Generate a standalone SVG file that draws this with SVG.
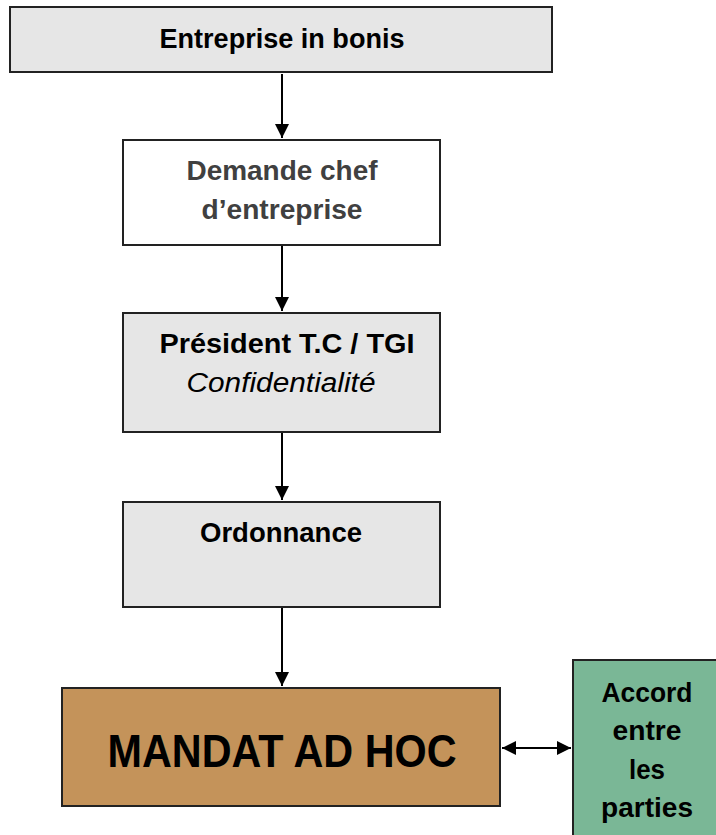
<svg xmlns="http://www.w3.org/2000/svg" width="716" height="835" viewBox="0 0 716 835">
<style>
.box{stroke:#222;stroke-width:2}
.t{font-family:"Liberation Sans",Arial,sans-serif;font-weight:bold;font-size:27px;text-anchor:middle;fill:#000}
.c{stroke:#000;stroke-width:2;fill:none}
</style>
<defs>
<marker id="ah" viewBox="0 0 10 10" refX="10" refY="5" markerWidth="7" markerHeight="7" orient="auto-start-reverse" markerUnits="strokeWidth">
<path d="M0,0 L10,5 L0,10 Z" fill="#000"/>
</marker>
</defs>
<rect width="716" height="835" fill="#fff"/>
<g id="n1"><rect class="box" x="10" y="7" width="542" height="65" fill="#e6e6e6"/>
<text class="t" x="282" y="48" textLength="245" lengthAdjust="spacingAndGlyphs">Entreprise in bonis</text></g>
<g id="n2"><rect class="box" x="123" y="140" width="317" height="105" fill="#fff"/>
<text class="t" x="282" y="180" style="fill:#404040" textLength="191" lengthAdjust="spacingAndGlyphs">Demande chef</text>
<text class="t" x="282" y="219" style="fill:#404040" textLength="161" lengthAdjust="spacingAndGlyphs">d’entreprise</text></g>
<g id="n3"><rect class="box" x="123" y="313" width="317" height="119" fill="#e6e6e6"/>
<text class="t" x="287" y="353" textLength="255" lengthAdjust="spacingAndGlyphs">Président T.C / TGI</text>
<text class="t" x="281" y="392" style="font-weight:normal;font-style:italic" textLength="189" lengthAdjust="spacingAndGlyphs">Confidentialité</text></g>
<g id="n4"><rect class="box" x="123" y="502" width="317" height="105" fill="#e6e6e6"/>
<text class="t" x="281" y="542" textLength="162" lengthAdjust="spacingAndGlyphs">Ordonnance</text></g>
<g id="n5"><rect class="box" x="62" y="688" width="438" height="118" fill="#c4935a"/>
<text class="t" x="282" y="767" style="font-size:46px" textLength="349" lengthAdjust="spacingAndGlyphs">MANDAT AD HOC</text></g>
<g id="n6"><rect class="box" x="573" y="660" width="150" height="185" fill="#7ab796"/>
<text class="t" x="647" y="702" textLength="91" lengthAdjust="spacingAndGlyphs">Accord</text>
<text class="t" x="647" y="740" textLength="69" lengthAdjust="spacingAndGlyphs">entre</text>
<text class="t" x="647" y="779" textLength="36" lengthAdjust="spacingAndGlyphs">les</text>
<text class="t" x="647" y="817" textLength="92" lengthAdjust="spacingAndGlyphs">parties</text></g>
<g id="connectors">
<line class="c" x1="282" y1="74" x2="282" y2="138" marker-end="url(#ah)"/>
<line class="c" x1="282" y1="246" x2="282" y2="311" marker-end="url(#ah)"/>
<line class="c" x1="282" y1="433" x2="282" y2="500" marker-end="url(#ah)"/>
<line class="c" x1="282" y1="608" x2="282" y2="686" marker-end="url(#ah)"/>
<line class="c" x1="502" y1="748" x2="571" y2="748" marker-start="url(#ah)" marker-end="url(#ah)"/>
</g>
</svg>
